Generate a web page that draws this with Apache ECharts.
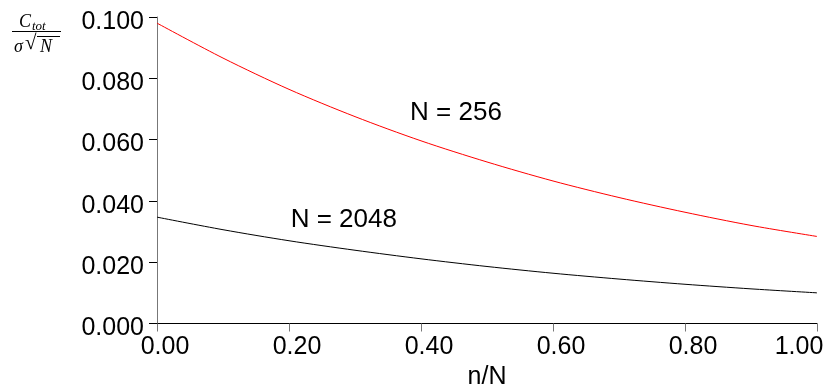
<!DOCTYPE html>
<html>
<head>
<meta charset="utf-8">
<script src="https://cdn.jsdelivr.net/npm/echarts@6/dist/echarts.min.js"></script>
<style>
html,body{margin:0;padding:0;background:#fff;}
#chart{width:825px;height:387px;}
</style>
</head>
<body>
<div id="chart"></div>
<script>
// ---- data ----
const xValues = [0.0, 0.1, 0.2, 0.3, 0.4, 0.5, 0.6, 0.7, 0.8, 0.9, 1.0];
const n256 = [0.0980, 0.0866, 0.0764, 0.0675, 0.0596, 0.0527, 0.0465, 0.0411, 0.0363, 0.0320, 0.0284];
const n2048 = [0.0347, 0.0306, 0.0270, 0.0239, 0.0211, 0.0186, 0.0164, 0.0145, 0.0128, 0.0113, 0.0100];
const seriesNames = ['N = 256', 'N = 2048'];
const labelPos256 = [0.453, 0.0687];
const labelPos2048 = [0.283, 0.0338];
const xTicks = [0, 0.2, 0.4, 0.6, 0.8, 1.0];
const yTicks = [0, 0.02, 0.04, 0.06, 0.08, 0.1];
const xName = 'n/N';

const pairs = (xs, ys) => xs.map((x, i) => [x, ys[i]]);
const font = 'Liberation Sans, Arial, sans-serif';
const serif = 'Liberation Serif, DejaVu Serif, serif';

const chart = echarts.init(document.getElementById('chart'), null, {renderer: 'canvas'});
chart.setOption({
  animation: false,
  backgroundColor: '#fff',
  grid: {left: 157, right: 8, top: 17, bottom: 63.5, containLabel: false, outerBoundsMode: 'none'},
  xAxis: {
    type: 'value', min: xTicks[0], max: xTicks[xTicks.length - 1], interval: 0.2,
    name: xName, nameLocation: 'middle', nameGap: 40,
    nameTextStyle: {fontFamily: font, fontSize: 25, color: '#000'},
    axisLine: {show: true, lineStyle: {color: '#000', width: 1}},
    axisTick: {show: true, inside: false, length: 8, lineStyle: {color: '#777', width: 1}},
    splitLine: {show: false},
    axisLabel: {
      margin: 11, color: '#000', fontFamily: font, fontSize: 25,
      formatter: v => (Math.abs(v - 1) < 1e-9 ? '{r|' : '{l|') + v.toFixed(2) + '}',
      rich: {
        l: {fontFamily: font, fontSize: 25, color: '#000', padding: [0, 0, 0, 16]},
        r: {fontFamily: font, fontSize: 25, color: '#000', padding: [0, 36, 0, 0]}
      }
    }
  },
  yAxis: {
    type: 'value', min: yTicks[0], max: yTicks[yTicks.length - 1], interval: 0.02,
    axisLine: {show: true, lineStyle: {color: '#777', width: 1}},
    axisTick: {show: true, inside: false, length: 8, lineStyle: {color: '#000', width: 1}},
    splitLine: {show: false},
    axisLabel: {
      margin: 13, color: '#000', fontFamily: font, fontSize: 25,
      formatter: v => '{a|' + v.toFixed(3) + '}',
      rich: {a: {fontFamily: font, fontSize: 25, color: '#000', padding: [10, 0, 0, 0]}}
    }
  },
  series: [
    {
      name: seriesNames[0], type: 'line', data: pairs(xValues, n256),
      smooth: 0.3, symbol: 'none',
      lineStyle: {color: '#ff0000', width: 1},
      markPoint: {
        symbol: 'circle', symbolSize: 0,
        data: [{coord: labelPos256, value: seriesNames[0]}],
        label: {show: true, position: 'inside', formatter: seriesNames[0], color: '#000', fontFamily: font, fontSize: 26}
      }
    },
    {
      name: seriesNames[1], type: 'line', data: pairs(xValues, n2048),
      smooth: 0.3, symbol: 'none',
      lineStyle: {color: '#000', width: 1},
      markPoint: {
        symbol: 'circle', symbolSize: 0,
        data: [{coord: labelPos2048, value: seriesNames[1]}],
        label: {show: true, position: 'inside', formatter: seriesNames[1], color: '#000', fontFamily: font, fontSize: 26}
      }
    }
  ],
  graphic: [
    {type: 'text', left: 19, top: 13, style: {text: 'C', font: 'italic 18px ' + serif, fill: '#000'}},
    {type: 'text', left: 32, top: 20, style: {text: 'tot', font: 'italic 13px ' + serif, fill: '#000'}},
    {type: 'line', shape: {x1: 12, y1: 31.5, x2: 61, y2: 31.5}, style: {stroke: '#000', lineWidth: 1}},
    {type: 'text', left: 14, top: 38, style: {text: 'σ', font: 'italic 18px ' + serif, fill: '#000'}},
    {type: 'text', left: 25, top: 33, style: {text: '√', font: '21px ' + serif, fill: '#000'}},
    {type: 'line', shape: {x1: 37, y1: 36.5, x2: 60, y2: 36.5}, style: {stroke: '#000', lineWidth: 1}},
    {type: 'text', left: 40, top: 38, style: {text: 'N', font: 'italic 18px ' + serif, fill: '#000'}}
  ]
});
</script>
</body>
</html>
